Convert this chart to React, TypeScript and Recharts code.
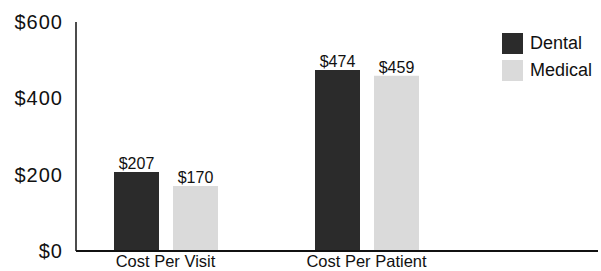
import { BarChart, Bar, XAxis, YAxis, Legend, LabelList } from 'recharts';

const CATEGORIES = ['Cost Per Visit', 'Cost Per Patient'];
const DENTAL = [207, 474];
const MEDICAL = [170, 459];
const Y_TICKS = [0, 200, 400, 600];

const FONT = '"Liberation Sans", Arial, sans-serif';
const DENTAL_COLOR = '#2b2b2b';
const MEDICAL_COLOR = '#dadada';

const data = CATEGORIES.map((name, i) => ({ name, Dental: DENTAL[i], Medical: MEDICAL[i] }));
const money = (v: number) => `$${v}`;

function LegendBox({ payload }: any) {
  return (
    <div style={{ fontFamily: FONT }}>
      {(payload || []).map((p: any) => (
        <div key={p.value} style={{ display: 'flex', alignItems: 'center', height: 27 }}>
          <span style={{ width: 21, height: 21, background: p.color, display: 'inline-block', marginRight: 7 }} />
          <span style={{ fontSize: 18, color: '#111' }}>{p.value}</span>
        </div>
      ))}
    </div>
  );
}

export default function App() {
  return (
    <div style={{ position: 'absolute', left: 0, top: 0, background: '#fff', fontFamily: FONT }}>
      <BarChart
        width={601}
        height={271}
        data={data}
        margin={{ top: 22, right: 3, bottom: 0, left: 0 }}
        barSize={45}
        barGap={14}
      >
        <YAxis
          width={76}
          domain={[0, 600]}
          ticks={Y_TICKS}
          tickFormatter={money}
          tickLine={false}
          tickSize={6}
          tickMargin={7}
          axisLine={{ stroke: '#111', strokeWidth: 1.5 }}
          tick={{ fill: '#111', fontSize: 20, fontFamily: FONT, letterSpacing: 1 }}
        />
        <XAxis
          dataKey="name"
          height={20}
          padding={{ left: -11, right: 131 }}
          tickLine={false}
          tickSize={4}
          tickMargin={0}
          axisLine={{ stroke: '#111', strokeWidth: 2 }}
          tick={{ fill: '#111', fontSize: 16.5, fontFamily: FONT }}
        />
        <Legend
          layout="horizontal"
          verticalAlign="middle"
          content={<LegendBox />}
          wrapperStyle={{ position: 'absolute', top: 30, left: 502, width: 100 }}
        />
        <Bar dataKey="Dental" fill={DENTAL_COLOR} isAnimationActive={false}>
          <LabelList dataKey="Dental" position="top" offset={3} formatter={money} fill="#111" fontSize={16} fontFamily={FONT} />
        </Bar>
        <Bar dataKey="Medical" fill={MEDICAL_COLOR} isAnimationActive={false}>
          <LabelList dataKey="Medical" position="top" offset={3} formatter={money} fill="#111" fontSize={16} fontFamily={FONT} />
        </Bar>
      </BarChart>
    </div>
  );
}
